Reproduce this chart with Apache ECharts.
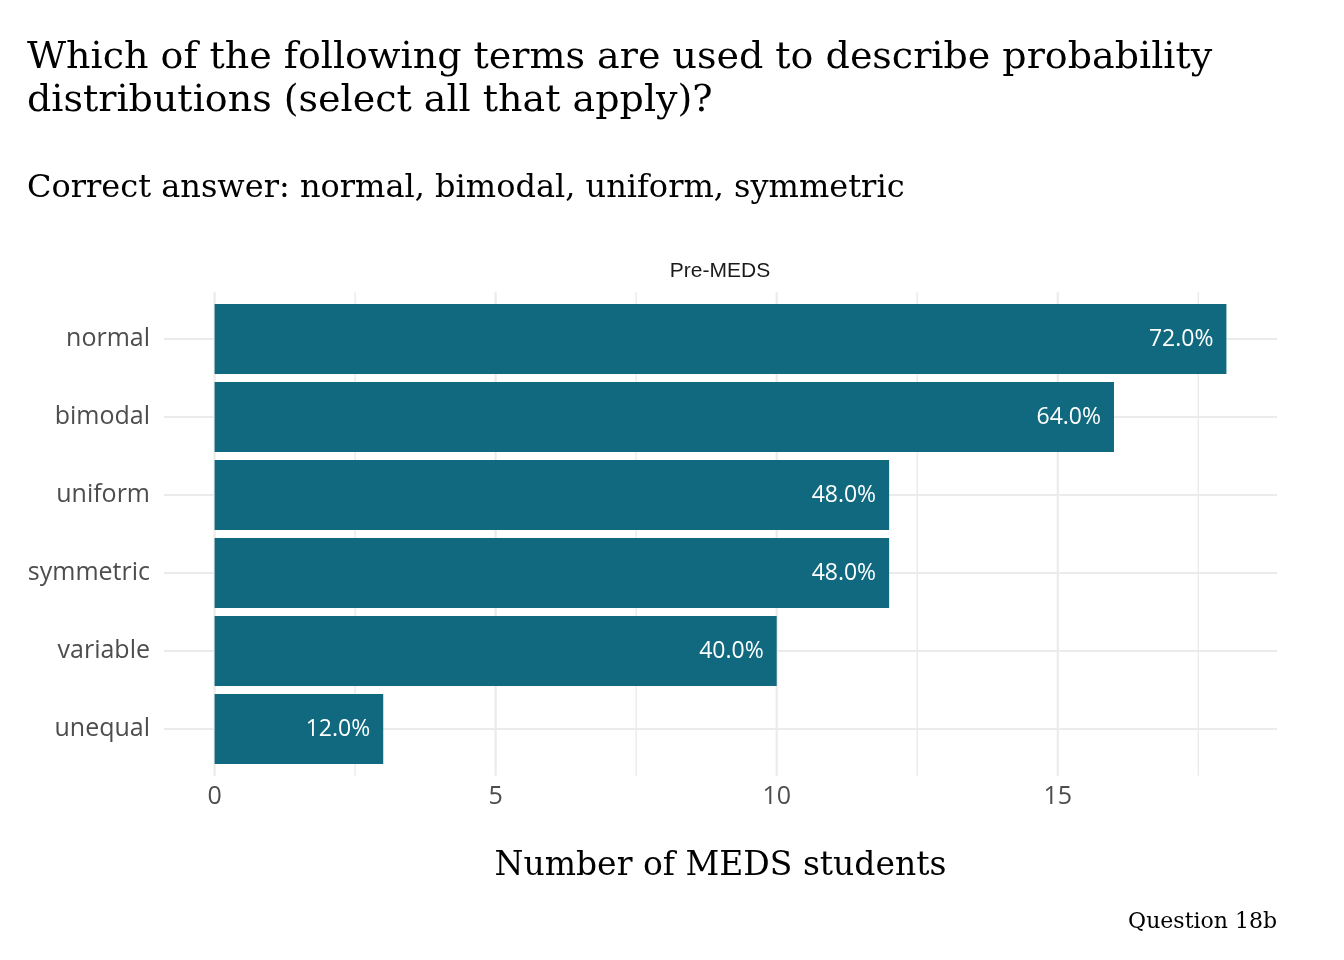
<!DOCTYPE html>
<html>
<head>
<meta charset="utf-8">
<script src="https://cdn.jsdelivr.net/npm/echarts@6/dist/echarts.min.js"></script>
<style>html,body{margin:0;padding:0;background:#fff}#c{width:1344px;height:960px}</style>
</head>
<body>
<div id="c"></div>
<script>
const categories = ['normal', 'bimodal', 'uniform', 'symmetric', 'variable', 'unequal'];
const counts = [18, 16, 12, 12, 10, 3];
const percentLabels = ['72.0%', '64.0%', '48.0%', '48.0%', '40.0%', '12.0%'];
const xTickValues = [0, 5, 10, 15];
const xMinorValues = [2.5, 7.5, 12.5, 17.5];
const xRange = [-0.9, 18.9];

const titleText = 'Which of the following terms are used to describe probability\ndistributions (select all that apply)?';
const subtitleText = 'Correct answer: normal, bimodal, uniform, symmetric';
const facetText = 'Pre-MEDS';
const xTitle = 'Number of MEDS students';
const captionText = 'Question 18b';

const serif = '"DejaVu Serif", serif';
const sans = '"Open Sans", "Noto Sans", sans-serif';
const grid = '#ebebeb';

const chart = echarts.init(document.getElementById('c'), null, {renderer: 'canvas'});

function vLine(params, api, width) {
  const cs = params.coordSys;
  const x = api.coord([api.value(0), 0])[0];
  const band = api.size([0, 1])[1];
  return {
    type: 'line',
    shape: {x1: x, y1: cs.y - 0.1 * band, x2: x, y2: cs.y + cs.height + 0.1 * band},
    style: {stroke: grid, lineWidth: width},
    silent: true
  };
}

chart.setOption({
  backgroundColor: '#ffffff',
  animation: false,
  title: [
    {text: titleText, left: 22, top: 32, textStyle: {fontFamily: serif, fontSize: 38, fontWeight: 'normal', color: '#000', lineHeight: 43}},
    {text: subtitleText, left: 22, top: 168, textStyle: {fontFamily: serif, fontSize: 32, fontWeight: 'normal', color: '#000'}},
    {text: facetText, left: 715, textAlign: 'center', top: 256, textStyle: {fontFamily: '"Liberation Sans", Arial, sans-serif', fontSize: 21, fontWeight: 'normal', color: '#1a1a1a'}},
    {text: captionText, right: 62, top: 906, textStyle: {fontFamily: serif, fontSize: 22, fontWeight: 'normal', color: '#000'}}
  ],
  grid: {left: 164, right: 67, top: 300, height: 468, containLabel: false},
  xAxis: {
    type: 'value', min: xRange[0], max: xRange[1],
    axisLine: {show: false}, axisTick: {show: false}, splitLine: {show: false},
    axisLabel: {customValues: xTickValues, fontFamily: sans, fontSize: 25, color: '#4d4d4d', margin: 16},
    name: xTitle, nameLocation: 'middle', nameGap: 82,
    nameTextStyle: {fontFamily: serif, fontSize: 33, color: '#000'}
  },
  yAxis: {
    type: 'category', data: categories, inverse: true,
    axisLine: {show: false}, axisTick: {show: false}, splitLine: {show: false},
    axisLabel: {fontFamily: sans, fontSize: 25, color: '#4d4d4d', margin: 14}
  },
  series: [
    {
      type: 'custom', z: 0, silent: true,
      data: categories.map(c => [0, c]),
      encode: {x: 0, y: 1},
      renderItem: function (params, api) {
        const cs = params.coordSys;
        const y = api.coord([0, api.value(1)])[1];
        return {type: 'line', shape: {x1: cs.x, y1: y, x2: cs.x + cs.width, y2: y}, style: {stroke: grid, lineWidth: 2.2}, silent: true};
      }
    },
    {
      type: 'custom', z: 0, silent: true,
      data: xTickValues.map(v => [v, categories[0]]),
      encode: {x: 0, y: 1},
      renderItem: function (params, api) { return vLine(params, api, 2.2); }
    },
    {
      type: 'custom', z: 0, silent: true,
      data: xMinorValues.map(v => [v, categories[0]]),
      encode: {x: 0, y: 1},
      renderItem: function (params, api) { return vLine(params, api, 1.4); }
    },
    {
      type: 'bar', z: 2,
      data: counts,
      barCategoryGap: '10%',
      itemStyle: {color: '#10697e'},
      label: {
        show: true, position: 'insideRight', distance: 13,
        formatter: p => percentLabels[p.dataIndex],
        fontFamily: sans, fontSize: 23, color: '#ffffff'
      }
    }
  ]
});
</script>
</body>
</html>
